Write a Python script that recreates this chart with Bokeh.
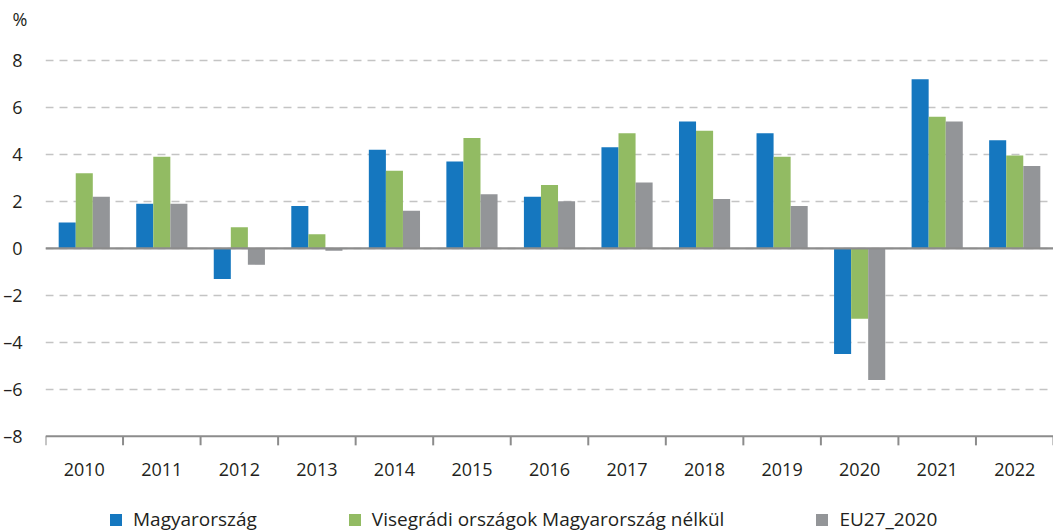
import math
from bokeh.plotting import figure
from bokeh.models import (ColumnDataSource, FixedTicker, Span, Legend, LegendItem)
from bokeh.core.properties import value
from bokeh.transform import dodge
from bokeh.embed import file_html
from bokeh.resources import INLINE

years = ["2010", "2011", "2012", "2013", "2014", "2015", "2016", "2017", "2018", "2019", "2020", "2021", "2022"]
hungary = [1.1, 1.9, -1.3, 1.8, 4.2, 3.7, 2.2, 4.3, 5.4, 4.9, -4.5, 7.2, 4.6]
visegrad = [3.2, 3.9, 0.9, 0.6, 3.3, 4.7, 2.7, 4.9, 5.0, 3.9, -3.0, 5.6, 3.95]
eu27 = [2.2, 1.9, -0.7, -0.1, 1.6, 2.3, 2.0, 2.8, 2.1, 1.8, -5.6, 5.4, 3.5]
series_names = ["Magyarország", "Visegrádi országok Magyarország nélkül", "EU27_2020"]
y_ticks = [-8, -6, -4, -2, 0, 2, 4, 6, 8]

FONT = "Open Sans"
TXT = "#231f20"
AXIS = "#8c8c8c"
colors = ["#1577bf", "#92bb63", "#939598"]

W, H = 1053, 532
TOP = 34                 # title area height (px)
PX_PER_UNIT = 23.5
y_axis_at = min(y_ticks)
y_end = 9.1
y_start = y_end - (H - TOP) / PX_PER_UNIT

idx = list(range(len(years)))
src = ColumnDataSource(dict(x=idx, hu=hungary, v4=visegrad, eu=eu27))

p = figure(width=W, height=H, output_backend="svg", toolbar_location=None,
           x_range=(-0.5, len(years) - 0.5), y_range=(y_start, y_end))
p.min_border_left = 45
p.min_border_right = 0
p.min_border_top = 0
p.min_border_bottom = 0
p.outline_line_color = None
p.background_fill_color = "white"
p.border_fill_color = "white"

p.title.text = "%"
p.title.align = "left"
p.title.offset = -33
p.title.text_font = FONT
p.title.text_font_size = "18px"
p.title.text_font_style = "normal"
p.title.text_color = TXT
p.title.standoff = 8

w = 0.22
r1 = p.vbar(x=dodge("x", -w, range=p.x_range), top="hu", width=w, source=src, color=colors[0], line_color=None)
r2 = p.vbar(x=dodge("x", 0, range=p.x_range), top="v4", width=w, source=src, color=colors[1], line_color=None)
r3 = p.vbar(x=dodge("x", w, range=p.x_range), top="eu", width=w, source=src, color=colors[2], line_color=None)

# y axis (labels only)
p.yaxis.ticker = FixedTicker(ticks=y_ticks)
p.yaxis.major_label_overrides = {t: (("–" + str(-t)) if t < 0 else str(t)) for t in y_ticks}
p.yaxis.axis_line_color = None
p.yaxis.major_tick_line_color = None
p.yaxis.minor_tick_line_color = None
p.yaxis.major_label_text_font = FONT
p.yaxis.major_label_text_font_size = "18px"
p.yaxis.major_label_text_color = TXT
p.yaxis.major_label_standoff = 17

p.xaxis.visible = False
p.xgrid.grid_line_color = None
p.ygrid.ticker = FixedTicker(ticks=[t for t in y_ticks if t != y_axis_at])
p.ygrid.grid_line_color = "#c4c4c4"
p.ygrid.grid_line_dash = "8 6"
p.ygrid.grid_line_width = 1.5

# category axis drawn at the bottom value of the y scale
p.add_layout(Span(location=y_axis_at, dimension="width", line_color=AXIS, line_width=2))
bounds = [i - 0.5 for i in range(len(years) + 1)]
p.ray(x=bounds, y=[y_axis_at] * len(bounds), length=9, length_units="screen",
      angle=-math.pi / 2, line_color=AXIS, line_width=2)
p.text(x=idx, y=[y_axis_at - 33 / PX_PER_UNIT] * len(idx), text=years,
       text_font=value(FONT), text_font_size="18px", text_color=TXT,
       text_align="center", text_baseline="middle")

p.add_layout(Span(location=0, dimension="width", line_color=AXIS, line_width=2.2))

legend = Legend(items=[LegendItem(label=series_names[0], renderers=[r1]),
                       LegendItem(label=series_names[1], renderers=[r2]),
                       LegendItem(label=series_names[2], renderers=[r3])],
                orientation="horizontal", location=(63, 0), spacing=90,
                glyph_width=15, glyph_height=15, label_standoff=10,
                label_text_font=FONT, label_text_font_size="19px", label_text_color=TXT,
                border_line_color=None, background_fill_alpha=0, padding=0, margin=0)
p.add_layout(legend, "center")

open("out.html", "w").write(file_html(p, INLINE))
